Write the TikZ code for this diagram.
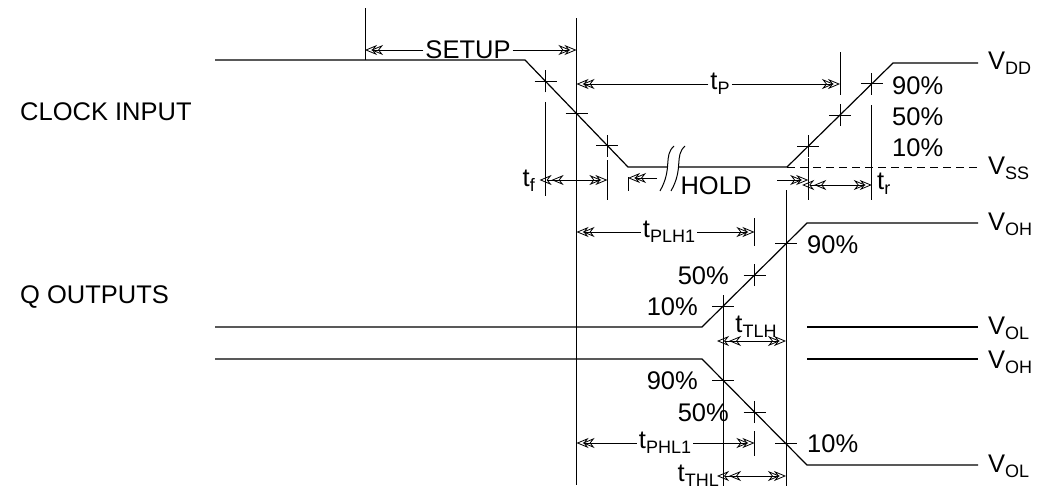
\documentclass[tikz,border=0pt]{standalone}
\usepackage{fontspec}
\setmainfont{Liberation Sans}
\usetikzlibrary{arrows.meta}
\usetikzlibrary{calc}
\tikzstyle{sig} = [line width=1.2pt]
\tikzstyle{ref} = [line width=1pt]
\tikzstyle{tip} = [line width=0.8pt, -{Stealth[open,length=12pt,width=10pt,sep=-6pt]Stealth[open,length=12pt,width=10pt]}]
\tikzstyle{tips} = [line width=0.8pt, {Stealth[open,length=12pt,width=10pt,sep=-6pt]Stealth[open,length=12pt,width=10pt]}-{Stealth[open,length=12pt,width=10pt,sep=-6pt]Stealth[open,length=12pt,width=10pt]}]
\tikzstyle{lbl} = [inner sep=2pt, font=\fontsize{25.5}{28}\selectfont]
\newcommand{\subtxt}[1]{\raisebox{-5pt}{\fontsize{18}{20}\selectfont #1}}

\begin{document}
\begin{tikzpicture}[x=1pt, y=-1pt]
    \useasboundingbox (0,0) rectangle (1038,490);

    % clock input
    \coordinate (c0) at (215,60);
    \coordinate (c1) at (525,60);
    \coordinate (c2) at (628,167);
    \coordinate (b1) at (667,167);
    \coordinate (b2) at (679,167);
    \coordinate (c3) at (787,167);
    \coordinate (c4) at (893,63);
    \coordinate (c5) at (978,63);
    \coordinate (c6) at (978,167);
    \draw[sig] (c0) -- (c1) -- (c2) -- (b1);
    \draw[sig] (b2) -- (c3) -- (c4) -- (c5);
    \draw[ref, dash pattern=on 8pt off 5pt] (c3) -- (c6);
    \foreach \dx in {0,11}
        \draw[ref] (674+\dx,146) .. controls (663+\dx,156) and (673+\dx,168) .. (660+\dx,191);

    % q outputs
    \coordinate (q0) at (215,327);
    \coordinate (q1) at (702,327);
    \coordinate (q2) at (807,223);
    \coordinate (q3) at (978,223);
    \coordinate (p0) at (215,359);
    \coordinate (p1) at (702,359);
    \coordinate (p2) at (807,465);
    \coordinate (p3) at (978,465);
    \draw[sig] (q0) -- (q1) -- (q2) -- (q3);
    \draw[sig] (p0) -- (p1) -- (p2) -- (p3);
    \draw[sig] (q1 -| q2) -- (q1 -| q3);
    \draw[sig] (p0 -| p2) -- (p0 -| p3);

    % 10, 50, 90 percent points
    \coordinate (f9) at ($(c1)!.2!(c2)$);
    \coordinate (f5) at ($(c1)!.5!(c2)$);
    \coordinate (f1) at ($(c1)!.8!(c2)$);
    \coordinate (r1) at ($(c3)!.2!(c4)$);
    \coordinate (r5) at ($(c3)!.5!(c4)$);
    \coordinate (r9) at ($(c3)!.8!(c4)$);
    \coordinate (u1) at ($(q1)!.2!(q2)$);
    \coordinate (u5) at ($(q1)!.5!(q2)$);
    \coordinate (u9) at ($(q1)!.8!(q2)$);
    \coordinate (d9) at ($(p1)!.2!(p2)$);
    \coordinate (d5) at ($(p1)!.5!(p2)$);
    \coordinate (d1) at ($(p1)!.8!(p2)$);
    \foreach \p in {f9,f5,f1,r1,r5,r9,u1,u5,u9,d9,d5,d1}
        \draw[ref] ([xshift=-11pt]\p) -- ([xshift=11pt]\p) ([yshift=-11pt]\p) -- ([yshift=11pt]\p);

    % reference lines
    \coordinate (s0) at (365,8);
    \draw[ref] (s0) -- (s0 |- c0);
    \draw[ref] (f5 |- 0,18) -- (f5 |- 0,485);
    \draw[ref] (f9 |- 0,102) -- (f9 |- 0,196);
    \draw[ref] (f1 |- 0,160) -- (f1 |- 0,200);
    \draw[ref] (c2 |- 0,177) -- (c2 |- 0,191);
    \draw[ref] (r5 |- 0,52) -- (r5 |- 0,95);
    \draw[ref] (r1 |- 0,158) -- (r1 |- 0,200);
    \draw[ref] (r9 |- 0,105) -- (r9 |- 0,200);
    \draw[ref] (u9 |- 0,190) -- (u9 |- 0,486);
    \draw[ref] (u1 |- 0,317) -- (u1 |- 0,486);
    \draw[ref] (u5 |- 0,218) -- (u5 |- 0,246);
    \draw[ref] (u5 |- 0,431) -- (u5 |- 0,456);

    % timing labels
    \node[lbl] (setup) at (468,50) {SETUP};
    \draw[tip] (setup) -- (setup -| s0);
    \draw[tip] (setup) -- (setup -| f5);
    \node[lbl] (tp) at (720,84) {t\subtxt{P}};
    \draw[tip] (tp) -- (tp -| f5);
    \draw[tip] (tp) -- (tp -| r5);
    \node[lbl, anchor=east] (tf) at (537,181) {t\subtxt{f}};
    \draw[tips] (f9 |- 0,180) -- (f1 |- 0,180);
    \node[lbl, anchor=west] (tr) at (875,184) {t\subtxt{r}};
    \draw[tips] (r1 |- 0,185) -- (r9 |- 0,185);
    \node[lbl] (hold) at (716,186) {HOLD};
    \coordinate (h0) at (657,178);
    \coordinate (h1) at (777,180);
    \draw[tip] (h0) -- (h0 -| c2);
    \draw[tip] (h1) -- (h1 -| r1);
    \node[lbl] (tplh) at (669,232) {t\subtxt{PLH1}};
    \draw[tip] (tplh) -- (tplh -| f5);
    \draw[tip] (tplh) -- (tplh -| u5);
    \node[lbl] (tphl) at (665,443) {t\subtxt{PHL1}};
    \draw[tip] (tphl) -- (tphl -| f5);
    \draw[tip] (tphl) -- (tphl -| u5);
    \node[lbl] (ttlh) at (756,327) {t\subtxt{TLH}};
    \draw[tips] (u1 |- 0,341) -- (u9 |- 0,341);
    \node[lbl, anchor=east] (tthl) at (721,476) {t\subtxt{THL}};
    \draw[tips] (u1 |- 0,476) -- (u9 |- 0,476);

    % percent labels
    \node[lbl, anchor=west] (cp9) at (890,86) {90\%};
    \node[lbl, anchor=west] (cp5) at (890,117) {50\%};
    \node[lbl, anchor=west] (cp1) at (890,148) {10\%};
    \node[lbl, anchor=west] (up9) at (805,245) {90\%};
    \node[lbl, anchor=east] (up5) at (731,276) {50\%};
    \node[lbl, anchor=east] (up1) at (700,307) {10\%};
    \node[lbl, anchor=east] (dp9) at (700,381) {90\%};
    \node[lbl, anchor=east] (dp5) at (731,413) {50\%};
    \node[lbl, anchor=west] (dp1) at (805,444) {10\%};

    % levels
    \node[lbl, anchor=west] (vdd) at (986,63) {V\subtxt{DD}};
    \node[lbl, anchor=west] (vss) at (986,168) {V\subtxt{SS}};
    \node[lbl, anchor=west] (voh1) at (986,224) {V\subtxt{OH}};
    \node[lbl, anchor=west] (vol1) at (986,328) {V\subtxt{OL}};
    \node[lbl, anchor=west] (voh2) at (986,362) {V\subtxt{OH}};
    \node[lbl, anchor=west] (vol2) at (986,466) {V\subtxt{OL}};
    \node[lbl, anchor=west] (clk) at (18,112) {CLOCK INPUT};
    \node[lbl, anchor=west] (qout) at (18,297) {Q OUTPUTS};
\end{tikzpicture}
\end{document}
